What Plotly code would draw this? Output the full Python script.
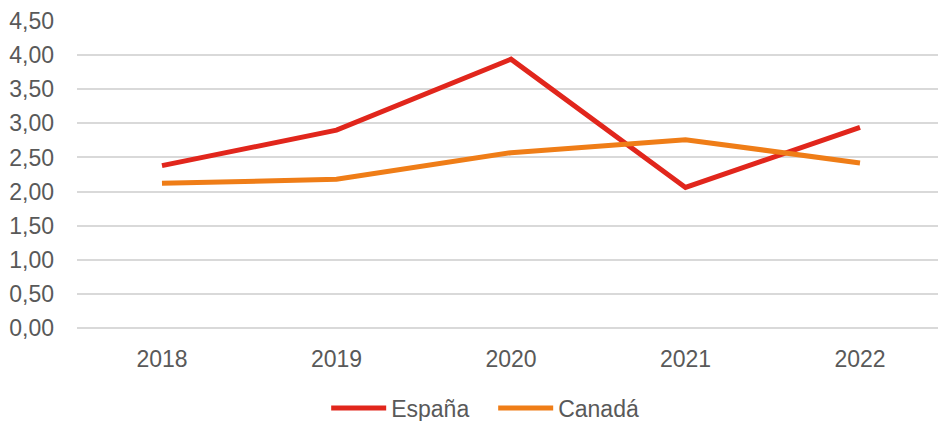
import plotly.graph_objects as go

years = ["2018", "2019", "2020", "2021", "2022"]
espana = [2.38, 2.90, 3.94, 2.06, 2.94]
canada = [2.12, 2.18, 2.57, 2.76, 2.42]
y_ticks = [0, 0.5, 1.0, 1.5, 2.0, 2.5, 3.0, 3.5, 4.0, 4.5]

font = "Liberation Sans, Arial, sans-serif"
grey = "#595959"

fig = go.Figure()
fig.add_trace(go.Scatter(x=years, y=espana, mode="lines", name="España",
                         line=dict(color="#E1261C", width=5)))
fig.add_trace(go.Scatter(x=years, y=canada, mode="lines", name="Canadá",
                         line=dict(color="#EF7D17", width=5)))

fig.update_layout(
    width=940, height=421,
    margin=dict(l=77, r=2, t=21, b=93),
    paper_bgcolor="white", plot_bgcolor="white",
    separators=",.",
    font=dict(family=font, size=23, color=grey),
    showlegend=True,
    legend=dict(orientation="h", xref="container", yref="container",
                x=0.347, y=0.031, xanchor="left", yanchor="middle",
                font=dict(family=font, size=23, color=grey),
                itemwidth=55, entrywidth=97, entrywidthmode="pixels",
                tracegroupgap=0, traceorder="normal"),
    xaxis=dict(type="category", range=[-0.487, 4.447], showgrid=False,
               zeroline=False, showline=False, ticks="",
               tickfont=dict(size=23, color=grey), ticklabelstandoff=15),
    yaxis=dict(range=[0, 4.5], tickvals=y_ticks, tickformat=".2f",
               showgrid=True, gridcolor="#D9D9D9", gridwidth=1.5,
               zeroline=True, zerolinecolor="#D9D9D9", zerolinewidth=2,
               showline=False, ticks="", ticklabelstandoff=22,
               tickfont=dict(size=23, color=grey)),
)

fig.write_html("out.html", config={"displayModeBar": False},
               post_script="document.body.style.margin='0';")
